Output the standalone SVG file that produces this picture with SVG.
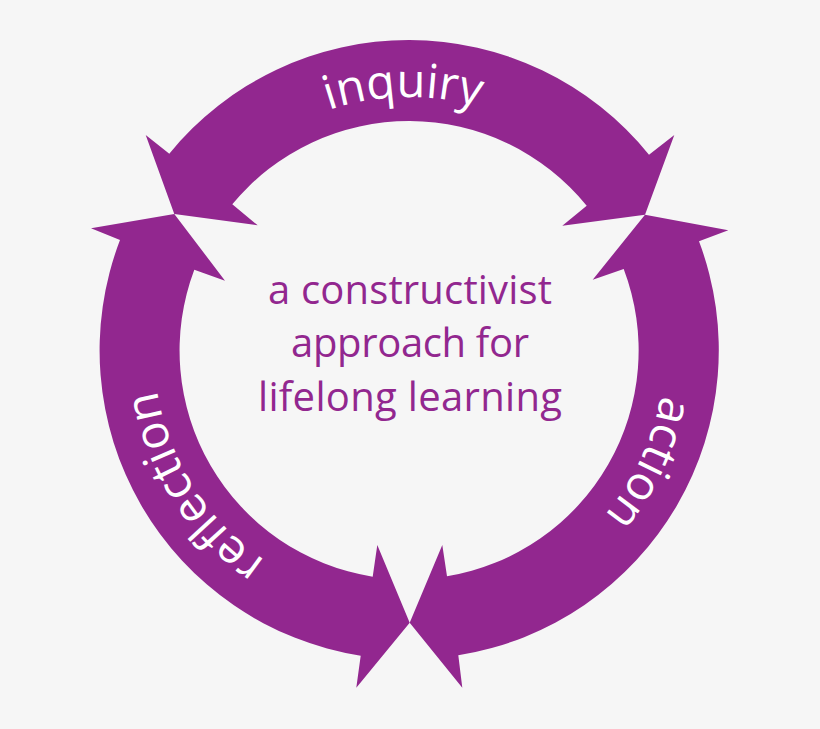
<svg xmlns="http://www.w3.org/2000/svg" width="820" height="729" viewBox="0 0 820 729">
<style>
.arrow{fill:#92278f}
text{font-family:"Open Sans","Noto Sans","Liberation Sans",sans-serif}
.ring{fill:#fff;font-size:47px;text-anchor:middle}
.mid{fill:#92278f;font-size:40px;text-anchor:middle}
</style>
<defs>
<path id="pInq" d="M156 350A253 253 0 0 1 662 350"/>
<path id="pAct" d="M409 94A256 256 0 0 1 409 606"/>
<path id="pRef" d="M409 605A255 255 0 0 1 409 95"/>
</defs>
<rect width="820" height="729" fill="#f6f6f6"/>
<g id="connectors">
<g id="inquiry-arrow"><path class="arrow" d="M174.3 214L145.7 135L169.3 153.7A309 309 0 0 1 649 154.7L674.3 135L645 214.7L562.3 225.7L586.7 205.7A229 229 0 0 0 232.3 204.3L257.7 225.3Z"/></g>
<g id="action-arrow"><path class="arrow" d="M645 214.7L728.3 230.3L699 241.3A309 309 0 0 1 458.3 655.3L462.3 687.7L409.7 622.7L442.3 545L447 576.3A229 229 0 0 0 623.7 269L592.7 279.7Z"/></g>
<g id="reflection-arrow"><path class="arrow" d="M174.3 214L91 228.3L120 240A309 309 0 0 0 360.7 655.7L356.3 687.7L409.7 622.7L377.3 545L372.7 576.7A229 229 0 0 1 194.3 269.7L225 280.7Z"/></g>
</g>
<g id="inquiry"><text class="ring"><textPath href="#pInq" startOffset="49.3%">inquiry</textPath></text></g>
<g id="action"><text class="ring"><textPath href="#pAct" startOffset="64%">action</textPath></text></g>
<g id="reflection"><text class="ring"><textPath href="#pRef" startOffset="32%">reflection</textPath></text></g>
<g id="center">
<text class="mid" x="410" y="304" textLength="284">a constructivist</text>
<text class="mid" x="410" y="357" textLength="238">approach for</text>
<text class="mid" x="410" y="411" textLength="304">lifelong learning</text>
</g>
</svg>
